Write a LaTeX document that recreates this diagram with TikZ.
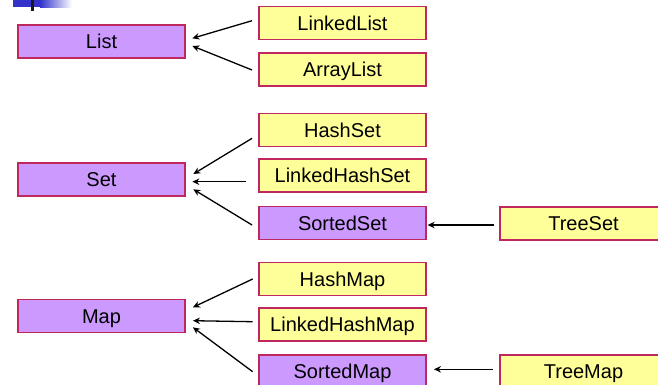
\documentclass[tikz,border=0pt]{standalone}
\usepackage{fontspec}
\setmainfont{Liberation Sans}
\usetikzlibrary{arrows.meta}
\definecolor{boxborder}{RGB}{190,40,95}
\definecolor{purplefill}{RGB}{204,153,255}
\definecolor{yellowfill}{RGB}{255,255,153}
\definecolor{barblue}{RGB}{51,51,204}
\begin{document}
\begin{tikzpicture}[x=1pt,y=-1pt,
  basebox/.style={draw=boxborder,line width=1.3pt,minimum width=167pt,minimum height=33pt,
    inner sep=0pt,text height=16pt,text depth=1.7pt,font=\fontsize{20}{24}\selectfont},
  ifacebox/.style={basebox,fill=purplefill},
  implbox/.style={basebox,fill=yellowfill},
  conn/.style={line width=1.3pt,-{Stealth[length=7pt,width=6.5pt]}}]
\useasboundingbox (0,0) rectangle (658,384);
\clip (0,0) rectangle (658,384);
\fill[white] (0,0) rectangle (658,384);
% corner decoration
\fill[barblue] (13,0) rectangle (41,7);
\shade[left color=barblue,right color=white] (40,0) rectangle (72,7);
\fill[black!90] (31,0) rectangle (34,11);
% interfaces
\node[ifacebox] (List) at (101.5,41.5) {List};
\node[ifacebox] (Set) at (101.5,179.5) {Set};
\node[ifacebox] (Map) at (101.5,316) {Map};
\node[ifacebox] (SortedSet) at (342.5,223) {SortedSet};
\node[ifacebox] (SortedMap) at (342.5,371.5) {SortedMap};
% implementations
\node[implbox] (LinkedList) at (342.5,23) {LinkedList};
\node[implbox] (ArrayList) at (342.5,69.5) {ArrayList};
\node[implbox] (HashSet) at (342.5,130) {HashSet};
\node[implbox] (LinkedHashSet) at (342.5,175.5) {LinkedHashSet};
\node[implbox] (TreeSet) at (583.5,223.5) {TreeSet};
\node[implbox] (HashMap) at (342.5,279) {HashMap};
\node[implbox] (LinkedHashMap) at (342.5,324.5) {LinkedHashMap};
\node[implbox] (TreeMap) at (583.5,371.5) {TreeMap};
% connectors
\draw[conn] ([shift={(-6.3,-2.3)}]LinkedList.west) -- ([shift={(6.7,-3.2)}]List.east);
\draw[conn] ([shift={(-6.3,0.5)}]ArrayList.west) -- ([shift={(6.7,4.5)}]List.east);
\draw[conn] ([shift={(-6.3,8.3)}]HashSet.west) -- ([shift={(7.7,-5.5)}]Set.east);
\draw[conn] ([shift={(-12.3,6.2)}]LinkedHashSet.west) -- ([shift={(6.7,2.2)}]Set.east);
\draw[conn] ([shift={(-6.3,2)}]SortedSet.west) -- ([shift={(7.7,9.8)}]Set.east);
\draw[conn] ([shift={(-5.7,1.5)}]TreeSet.west) -- ([shift={(1,2)}]SortedSet.east);
\draw[conn] ([shift={(-5.7,0)}]HashMap.west) -- ([shift={(7.3,-8.7)}]Map.east);
\draw[conn] ([shift={(-5.7,-2.8)}]LinkedHashMap.west) -- ([shift={(7.3,4.7)}]Map.east);
\draw[conn] ([shift={(-5.7,0.2)}]SortedMap.west) -- ([shift={(7.3,11.3)}]Map.east);
\draw[conn] ([shift={(-6.7,-2.2)}]TreeMap.west) -- ([shift={(7.3,-2.2)}]SortedMap.east);
\end{tikzpicture}
\end{document}
